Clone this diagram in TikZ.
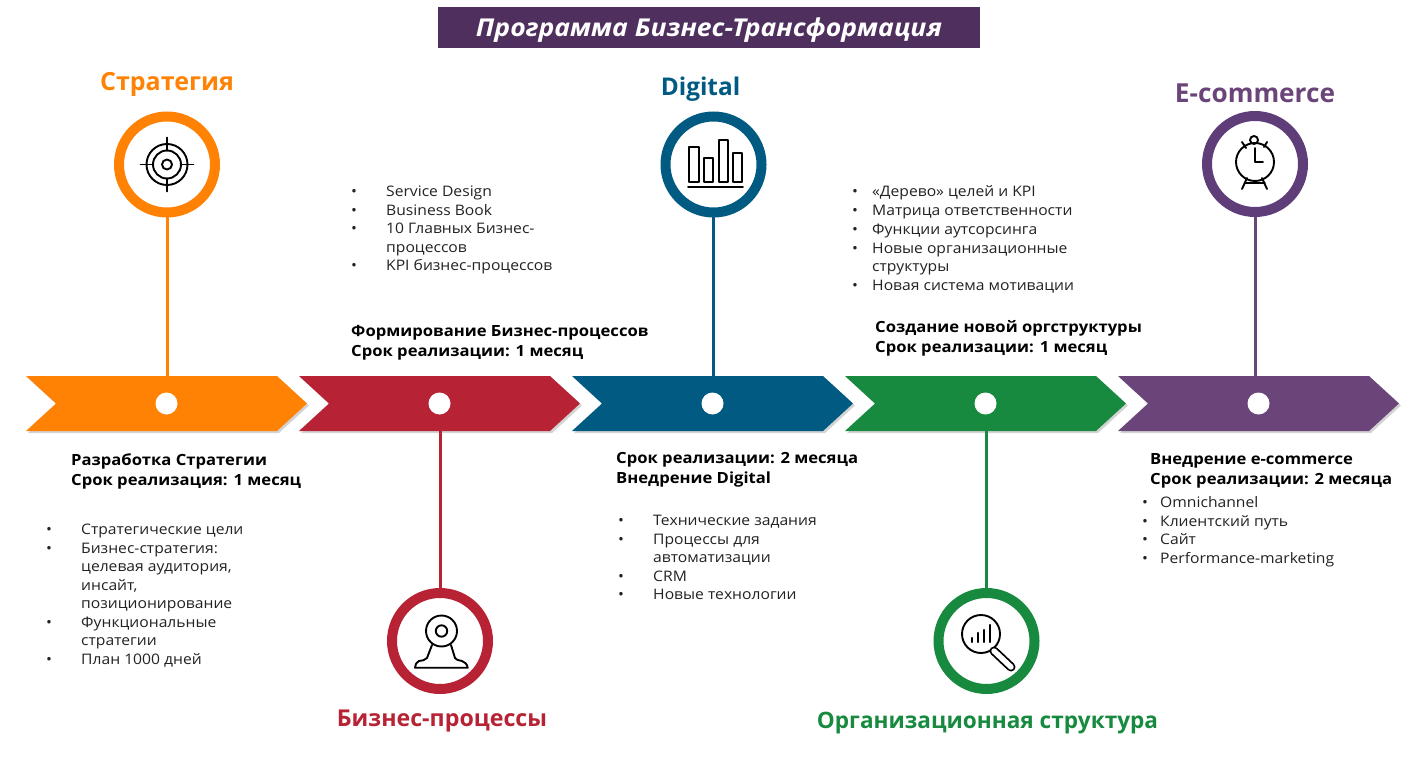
\documentclass[tikz,border=0pt]{standalone}
\usepackage{fontspec}
\setmainfont[FakeStretch=1.08]{Open Sans}
\newfontfamily\plainfont{Open Sans}
\usetikzlibrary{shapes.symbols,shadows}
\definecolor{orangeC}{HTML}{FF8205}
\definecolor{redC}{HTML}{B72334}
\definecolor{blueC}{HTML}{005A82}
\definecolor{greenC}{HTML}{188A3F}
\definecolor{purpleC}{HTML}{6B4579}
\definecolor{bannerC}{HTML}{4F2F5E}
\definecolor{ringC}{HTML}{5E3D78}
\definecolor{textC}{HTML}{222222}
\newcommand{\bul}{\makebox[35pt][l]{\textbullet}}
\newcommand{\bulb}{\makebox[20pt][l]{\textbullet}}
\newcommand{\bulc}{\makebox[18pt][l]{\textbullet}}
\begin{document}
\begin{tikzpicture}[x=1pt, y=-1pt, node distance={273pt},
	arrow/.style={signal, signal to=east, signal from=west, signal pointer angle=85, minimum width=281pt, minimum height=55pt, inner sep=0pt, drop shadow={shadow xshift=2pt, shadow yshift=-2pt, opacity=.35}},
	ring/.style={draw, circle, line width=10pt, fill=white, minimum size=96pt, inner sep=0pt, drop shadow={shadow xshift=2pt, shadow yshift=-2pt, opacity=.3}},
	dot/.style={circle, fill=white, minimum size=22pt, inner sep=0pt},
	link/.style={line width=3pt},
	icon/.style={draw=black, line width=1.9pt, line join=round, line cap=round},
	heading/.style={font=\plainfont\bfseries},
	head/.style={anchor=north west, inner sep=0pt, align=left, text=black, font=\fontsize{15.4}{20.2}\selectfont\bfseries},
	list/.style={anchor=north west, inner sep=0pt, align=left, text=textC, font=\fontsize{14.5}{18.5}\selectfont}]
	\useasboundingbox (0,0) rectangle (1410,759);

	\node[fill=bannerC, minimum width=542pt, minimum height=41pt, inner sep=0pt, text height=22pt, text depth=4pt, text=white, font=\fontsize{24.6}{28}\selectfont\bfseries\itshape] (banner) at (709,27.5) {Программа Бизнес-Трансформация};

	\node[arrow, fill=orangeC] (arrow1) at (166.5,403.5) {};
	\node[arrow, fill=redC] (arrow2) [right of=arrow1] {};
	\node[arrow, fill=blueC] (arrow3) [right of=arrow2] {};
	\node[arrow, fill=greenC] (arrow4) [right of=arrow3] {};
	\node[arrow, fill=purpleC] (arrow5) [right of=arrow4] {};

	\node[dot] (dot1) at (arrow1) {};
	\node[dot] (dot2) at (arrow2) {};
	\node[dot] (dot3) at (arrow3) {};
	\node[dot] (dot4) at (arrow4) {};
	\node[dot] (dot5) at (arrow5) {};

	\node[ring, draw=orangeC] (ring1) at (167,164.5) {};
	\node[ring, draw=redC] (ring2) at (440,641) {};
	\node[ring, draw=blueC] (ring3) at (713.5,164.5) {};
	\node[ring, draw=greenC] (ring4) at (986.5,641) {};
	\node[ring, draw=ringC] (ring5) at (1255,164) {};

	\draw[link, orangeC] (ring1) -- (ring1 |- arrow1.north);
	\draw[link, redC] (ring2) -- (ring2 |- arrow2.south);
	\draw[link, blueC] (ring3) -- (ring3 |- arrow3.north);
	\draw[link, greenC] (ring4) -- (ring4 |- arrow4.south);
	\draw[link, purpleC] (ring5) -- (ring5 |- arrow5.north);

	\node[heading, text=orangeC, font=\plainfont\bfseries\fontsize{25}{30}\selectfont] (title1) at (167,84) {Стратегия};
	\node[heading, text=redC, font=\plainfont\bfseries\fontsize{23.2}{30}\selectfont] (title2) at (442,721) {Бизнес-процессы};
	\node[heading, text=blueC, font=\plainfont\bfseries\fontsize{24.4}{30}\selectfont] (title3) at (700.5,89) {Digital};
	\node[heading, text=greenC, font=\plainfont\bfseries\fontsize{22.6}{30}\selectfont] (title4) at (987.5,723) {Организационная структура};
	\node[heading, text=purpleC, font=\plainfont\bfseries\fontsize{26.2}{30}\selectfont] (title5) at (1255,93) {E-commerce};

	\draw[icon] (ring1.center) circle (5) (ring1.center) circle (14) (ring1.center) circle (20.5);
	\draw[icon] (167,137.5) -- (167,150.5) (167,178.5) -- (167,191.5) (140.5,164.5) -- (153,164.5) (181,164.5) -- (193.5,164.5);

	\draw[icon] (441.5,631) circle (15.5) (441.5,631) circle (5.7);
	\draw[icon] (432,645) -- (427,658) .. controls (425,661) and (422,660) .. (419,661) .. controls (416,663) and (415,665) .. (415,667.7) -- (467.7,667.7) .. controls (467,664) and (465,662) .. (462,661) .. controls (458,660) and (456,660) .. (455,658) -- (451,645);

	\draw[icon] (688,186.7) -- (743,186.7);
	\draw[icon] (689,182) rectangle (699,147) (704,182) rectangle (713,158) (719,182) rectangle (728,140) (733,182) rectangle (742,153);

	\draw[icon] (981,634) circle (19);
	\draw[icon, line width=2.2pt] (972,638) -- (972,642) (978,633) -- (978,642) (984,630) -- (984,642) (990,625) -- (990,642);
	\draw[icon, line width=9pt] (994,651) -- (1011,667);
	\draw[white, line width=5.4pt, line cap=round] (994,651) -- (1011,667);

	\draw[icon] (1255,162) circle (19) (1254,140) circle (4);
	\draw[icon] (1255,148) -- (1255,162) -- (1263,162);
	\draw[icon] (1242,142) -- (1246,148) (1267,142) -- (1264,147);
	\draw[icon] (1242,189) -- (1247,178) (1267,189) -- (1262,178) (1245,183) -- (1265,183);

	\node[head] (head1) at (71,453) {Разработка Стратегии\\Срок реализация:\hspace{6pt}1 месяц};
	\node[head] (head2) at (351,325) {Формирование Бизнес-процессов\\Срок реализации:\hspace{6pt}1 месяц};
	\node[head] (head3) at (616,452) {Срок реализации: 2 месяца\\Внедрение Digital};
	\node[head] (head4) at (875,320) {Создание новой оргструктуры\\Срок реализации:\hspace{6pt}1 месяц};
	\node[head] (head5) at (1150,453) {Внедрение e-commerce\\Срок реализации: 2 месяца};

	\node[list] (list1) at (46,524) {\bul Стратегические цели\\\bul Бизнес-стратегия:\\\hspace*{35pt}целевая аудитория,\\\hspace*{35pt}инсайт,\\\hspace*{35pt}позиционирование\\\bul Функциональные\\\hspace*{35pt}стратегии\\\bul План 1000 дней};
	\node[list] (list2) at (351,186) {\bul Service Design\\\bul Business Book\\\bul 10 Главных Бизнес-\\\hspace*{35pt}процессов\\\bul KPI бизнес-процессов};
	\node[list] (list3) at (618,515) {\bul Технические задания\\\bul Процессы для\\\hspace*{35pt}автоматизации\\\bul CRM\\\bul Новые технологии};
	\node[list, font=\fontsize{14.5}{18.8}\selectfont] (list4) at (852,185.5) {\bulb «Дерево» целей и KPI\\\bulb Матрица ответственности\\\bulb Функции аутсорсинга\\\bulb Новые организационные\\\hspace*{20pt}структуры\\\bulb Новая система мотивации};
	\node[list] (list5) at (1142,496.5) {\bulc Omnichannel\\\bulc Клиентский путь\\\bulc Сайт\\\bulc Performance-marketing};
\end{tikzpicture}
\end{document}
